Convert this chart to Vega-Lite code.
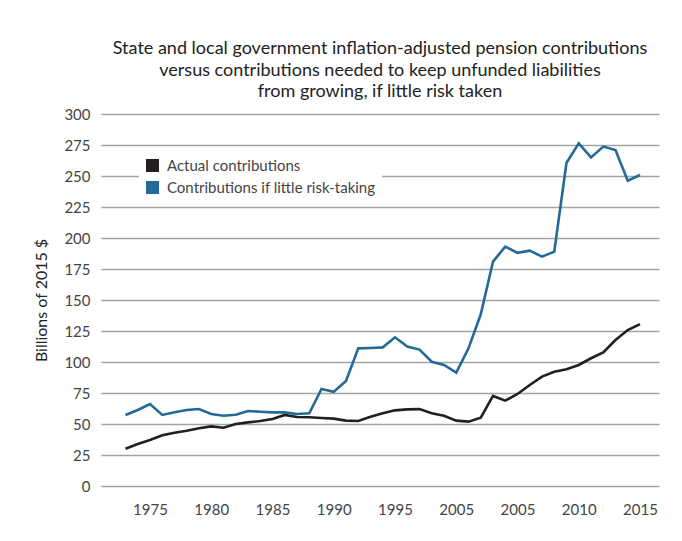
{
  "$schema": "https://vega.github.io/schema/vega-lite/v6.json",
  "width": 558,
  "height": 372,
  "autosize": {"type": "none"},
  "padding": {"left": 101, "top": 114, "right": 23, "bottom": 55},
  "background": "white",
  "title": {
    "text": ["State and local government inflation-adjusted pension contributions", "versus contributions needed to keep unfunded liabilities", "from growing, if little risk taken"],
    "font": "Lato",
    "fontSize": 18,
    "fontWeight": "normal",
    "color": "#222222",
    "lineHeight": 21.5,
    "anchor": "middle",
    "offset": 6
  },
  "config": {
    "font": "Lato",
    "view": {"stroke": null},
    "axis": {"labelFont": "Lato", "titleFont": "Lato", "labelColor": "#444444", "titleColor": "#222222"}
  },
  "data": {
    "values": [
      {"year": 1973, "series": "Actual contributions", "value": 30.1},
      {"year": 1974, "series": "Actual contributions", "value": 33.9},
      {"year": 1975, "series": "Actual contributions", "value": 37.1},
      {"year": 1976, "series": "Actual contributions", "value": 40.9},
      {"year": 1977, "series": "Actual contributions", "value": 43.0},
      {"year": 1978, "series": "Actual contributions", "value": 44.6},
      {"year": 1979, "series": "Actual contributions", "value": 46.5},
      {"year": 1980, "series": "Actual contributions", "value": 48.1},
      {"year": 1981, "series": "Actual contributions", "value": 47.0},
      {"year": 1982, "series": "Actual contributions", "value": 50.0},
      {"year": 1983, "series": "Actual contributions", "value": 51.3},
      {"year": 1984, "series": "Actual contributions", "value": 52.4},
      {"year": 1985, "series": "Actual contributions", "value": 54.0},
      {"year": 1986, "series": "Actual contributions", "value": 57.3},
      {"year": 1987, "series": "Actual contributions", "value": 55.6},
      {"year": 1988, "series": "Actual contributions", "value": 55.4},
      {"year": 1989, "series": "Actual contributions", "value": 54.8},
      {"year": 1990, "series": "Actual contributions", "value": 54.3},
      {"year": 1991, "series": "Actual contributions", "value": 52.7},
      {"year": 1992, "series": "Actual contributions", "value": 52.4},
      {"year": 1993, "series": "Actual contributions", "value": 55.9},
      {"year": 1994, "series": "Actual contributions", "value": 58.6},
      {"year": 1995, "series": "Actual contributions", "value": 61.0},
      {"year": 1996, "series": "Actual contributions", "value": 61.8},
      {"year": 1997, "series": "Actual contributions", "value": 62.0},
      {"year": 1998, "series": "Actual contributions", "value": 58.6},
      {"year": 1999, "series": "Actual contributions", "value": 56.7},
      {"year": 2000, "series": "Actual contributions", "value": 52.7},
      {"year": 2001, "series": "Actual contributions", "value": 51.9},
      {"year": 2002, "series": "Actual contributions", "value": 55.1},
      {"year": 2003, "series": "Actual contributions", "value": 72.6},
      {"year": 2004, "series": "Actual contributions", "value": 68.8},
      {"year": 2005, "series": "Actual contributions", "value": 74.2},
      {"year": 2006, "series": "Actual contributions", "value": 81.5},
      {"year": 2007, "series": "Actual contributions", "value": 88.2},
      {"year": 2008, "series": "Actual contributions", "value": 92.2},
      {"year": 2009, "series": "Actual contributions", "value": 94.1},
      {"year": 2010, "series": "Actual contributions", "value": 97.6},
      {"year": 2011, "series": "Actual contributions", "value": 103.0},
      {"year": 2012, "series": "Actual contributions", "value": 107.8},
      {"year": 2013, "series": "Actual contributions", "value": 117.7},
      {"year": 2014, "series": "Actual contributions", "value": 125.8},
      {"year": 2015, "series": "Actual contributions", "value": 130.6},
      {"year": 1973, "series": "Contributions if little risk-taking", "value": 57.3},
      {"year": 1974, "series": "Contributions if little risk-taking", "value": 61.3},
      {"year": 1975, "series": "Contributions if little risk-taking", "value": 66.1},
      {"year": 1976, "series": "Contributions if little risk-taking", "value": 57.3},
      {"year": 1977, "series": "Contributions if little risk-taking", "value": 59.4},
      {"year": 1978, "series": "Contributions if little risk-taking", "value": 61.3},
      {"year": 1979, "series": "Contributions if little risk-taking", "value": 62.1},
      {"year": 1980, "series": "Contributions if little risk-taking", "value": 58.1},
      {"year": 1981, "series": "Contributions if little risk-taking", "value": 56.7},
      {"year": 1982, "series": "Contributions if little risk-taking", "value": 57.5},
      {"year": 1983, "series": "Contributions if little risk-taking", "value": 60.5},
      {"year": 1984, "series": "Contributions if little risk-taking", "value": 59.9},
      {"year": 1985, "series": "Contributions if little risk-taking", "value": 59.4},
      {"year": 1986, "series": "Contributions if little risk-taking", "value": 59.4},
      {"year": 1987, "series": "Contributions if little risk-taking", "value": 58.1},
      {"year": 1988, "series": "Contributions if little risk-taking", "value": 58.6},
      {"year": 1989, "series": "Contributions if little risk-taking", "value": 78.2},
      {"year": 1990, "series": "Contributions if little risk-taking", "value": 76.0},
      {"year": 1991, "series": "Contributions if little risk-taking", "value": 84.7},
      {"year": 1992, "series": "Contributions if little risk-taking", "value": 111.0},
      {"year": 1993, "series": "Contributions if little risk-taking", "value": 111.3},
      {"year": 1994, "series": "Contributions if little risk-taking", "value": 111.8},
      {"year": 1995, "series": "Contributions if little risk-taking", "value": 119.9},
      {"year": 1996, "series": "Contributions if little risk-taking", "value": 112.4},
      {"year": 1997, "series": "Contributions if little risk-taking", "value": 110.0},
      {"year": 1998, "series": "Contributions if little risk-taking", "value": 100.2},
      {"year": 1999, "series": "Contributions if little risk-taking", "value": 97.6},
      {"year": 2000, "series": "Contributions if little risk-taking", "value": 91.4},
      {"year": 2001, "series": "Contributions if little risk-taking", "value": 111.0},
      {"year": 2002, "series": "Contributions if little risk-taking", "value": 138.5},
      {"year": 2003, "series": "Contributions if little risk-taking", "value": 181.0},
      {"year": 2004, "series": "Contributions if little risk-taking", "value": 193.0},
      {"year": 2005, "series": "Contributions if little risk-taking", "value": 188.0},
      {"year": 2006, "series": "Contributions if little risk-taking", "value": 189.8},
      {"year": 2007, "series": "Contributions if little risk-taking", "value": 185.0},
      {"year": 2008, "series": "Contributions if little risk-taking", "value": 189.0},
      {"year": 2009, "series": "Contributions if little risk-taking", "value": 260.7},
      {"year": 2010, "series": "Contributions if little risk-taking", "value": 276.3},
      {"year": 2011, "series": "Contributions if little risk-taking", "value": 265.0},
      {"year": 2012, "series": "Contributions if little risk-taking", "value": 273.7},
      {"year": 2013, "series": "Contributions if little risk-taking", "value": 271.0},
      {"year": 2014, "series": "Contributions if little risk-taking", "value": 246.2},
      {"year": 2015, "series": "Contributions if little risk-taking", "value": 250.8}
    ]
  },
  "mark": {"type": "line", "strokeWidth": 2.6, "strokeJoin": "miter"},
  "encoding": {
    "x": {
      "field": "year",
      "type": "quantitative",
      "scale": {"domain": [1971, 2016.55], "nice": false, "zero": false},
      "axis": {
        "title": null,
        "values": [1975, 1980, 1985, 1990, 1995, 2000, 2005, 2010, 2015],
        "labelExpr": "datum.value == 2000 ? '2005' : datum.label",
        "format": "d",
        "grid": false,
        "domain": false,
        "ticks": false,
        "labelFontSize": 15,
        "labelPadding": 16
      }
    },
    "y": {
      "field": "value",
      "type": "quantitative",
      "scale": {"domain": [0, 300], "nice": false},
      "axis": {
        "title": "Billions of 2015 $",
        "titleFontSize": 16,
        "titleFontWeight": "normal",
        "titlePadding": 14,
        "values": [0, 25, 50, 75, 100, 125, 150, 175, 200, 225, 250, 275, 300],
        "grid": true,
        "gridColor": "#a3a3a3",
        "gridWidth": 1.3,
        "domain": false,
        "ticks": false,
        "labelFontSize": 15,
        "labelPadding": 11
      }
    },
    "color": {
      "field": "series",
      "type": "nominal",
      "scale": {"domain": ["Actual contributions", "Contributions if little risk-taking"], "range": ["#231f20", "#236a96"]},
      "legend": {
        "title": null,
        "orient": "none",
        "legendX": 38,
        "legendY": 38,
        "symbolType": "square",
        "symbolSize": 169,
        "symbolStrokeWidth": 0,
        "symbolOpacity": 1,
        "labelFontSize": 15,
        "labelColor": "#444444",
        "labelFont": "Lato",
        "labelLimit": 400,
        "labelOffset": 7,
        "rowPadding": 6,
        "fillColor": "white",
        "padding": 6,
        "encode": {
          "symbols": {"update": {"fill": {"scale": "color", "field": "value"}, "fillOpacity": {"value": 1}}}
        }
      }
    }
  }
}
